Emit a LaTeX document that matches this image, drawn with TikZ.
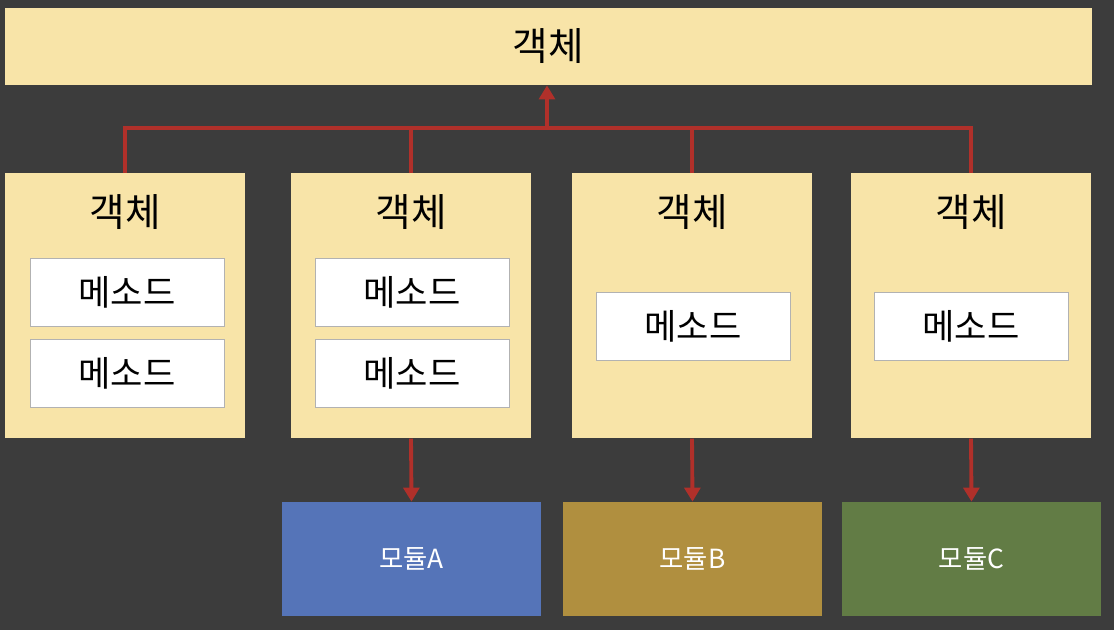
\documentclass[tikz,border=0pt]{standalone}
\usepackage{fontspec}
\setmainfont{Noto Sans CJK KR}
\usetikzlibrary{positioning,arrows.meta}
\definecolor{bgdark}{HTML}{3C3C3C}
\definecolor{objfill}{HTML}{F8E4A8}
\definecolor{linkred}{HTML}{B0302A}
\definecolor{modblue}{HTML}{5574B8}
\definecolor{modgold}{HTML}{B08F3F}
\definecolor{modgreen}{HTML}{627C45}
\tikzset{
  objbox/.style={fill=objfill,draw=none,minimum width=240*0.02cm,minimum height=265*0.02cm,anchor=north},
  methbox/.style={fill=white,draw=gray!60,minimum width=194*0.02cm,minimum height=68*0.02cm,font=\fontsize{20}{22}\selectfont},
  modbox/.style={draw=none,minimum width=259*0.02cm,minimum height=114*0.02cm,text=white,font=\fontsize{15}{17}\selectfont},
  link/.style={draw=linkred,line width=2.2pt},
  objtitle/.style={font=\fontsize{22}{24}\selectfont}
}
\begin{document}
\begin{tikzpicture}[x=0.02cm,y=-0.02cm]
		\fill[bgdark] (0,0) rectangle (1114,630);
		\useasboundingbox (0,0) rectangle (1114,630);
		\node[fill=objfill,minimum width=1087*0.02cm,minimum height=77*0.02cm,objtitle] (top) at (548.5,46.5) {객체};
		% objects
		\node[objbox] (objA) at (125,173) {};
		\node[objbox] (objB) at (411,173) {};
		\node[objbox] (objC) at (692,173) {};
		\node[objbox] (objD) at (971,173) {};
		\foreach \o/\x in {objA/125,objB/411,objC/692,objD/971}
			\node[objtitle] (\o-t) at (\x,212) {객체};
		% methods
		\node[methbox] (mA1) at (127,292) {메소드};
		\node[methbox] (mA2) at (127,373) {메소드};
		\node[methbox] (mB1) at (412,292) {메소드};
		\node[methbox] (mB2) at (412,373) {메소드};
		\node[methbox] (mC1) at (693,326) {메소드};
		\node[methbox] (mD1) at (971,326) {메소드};
		% modules
		\node[modbox,fill=modblue] (modA) at (411.5,559) {모듈A};
		\node[modbox,fill=modgold] (modB) at (692.5,559) {모듈B};
		\node[modbox,fill=modgreen] (modC) at (971.5,559) {모듈C};
		% links
		\coordinate (hub) at (547,128);
		\draw[link] (objA.north) |- (objD.north |- hub) -- (objD.north);
		\draw[link] (objB.north) -- (objB.north |- hub);
		\draw[link] (objC.north) -- (objC.north |- hub);
		\draw[link,-{Triangle[length=8pt,width=9pt]}] (hub) -- (top.south -| hub);
		\foreach \o/\m in {objB/modA,objC/modB,objD/modC}
			\draw[link,-{Triangle[length=8pt,width=9pt]}] (\o.south) -- (\m.north);
\end{tikzpicture}
\end{document}
